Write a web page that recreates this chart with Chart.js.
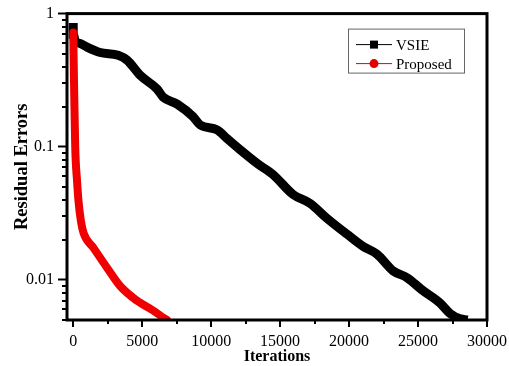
<!DOCTYPE html>
<html>
<head>
<meta charset="utf-8">
<script src="https://cdn.jsdelivr.net/npm/chart.js@4.4.0/dist/chart.umd.min.js"></script>
<style>
  html, body { margin: 0; padding: 0; background: #fff; }
  #wrap { width: 509px; height: 366px; }
</style>
</head>
<body>
<div id="wrap"><canvas id="c" width="509" height="366"></canvas></div>
<script>
// values
var xTicks = [0, 5000, 10000, 15000, 20000, 25000, 30000];
var yTicks = [0.01, 0.1, 1];

var vsieX = [0, 0, 150, 507, 1000, 1957, 3260, 3913, 4855, 6087, 6520, 7536, 8696, 9200, 10435, 11160, 12100, 13335, 14490, 15940, 17170, 18400, 19860, 21000, 22030, 23190, 24200, 25360, 26600, 27320, 28050, 28600];
var vsieY = [0.85, 0.7, 0.62, 0.597, 0.56, 0.51, 0.486, 0.446, 0.344, 0.271, 0.236, 0.209, 0.168, 0.146, 0.134, 0.115, 0.095, 0.075, 0.0618, 0.0438, 0.0376, 0.029, 0.022, 0.0179, 0.0156, 0.0117, 0.0104, 0.0083, 0.0067, 0.0056, 0.0051, 0.005];

var propX = [0, 60, 145, 280, 386, 560, 750, 1470, 2440, 3400, 4610, 5820, 6540, 6800];
var propY = [0.72, 0.3, 0.1, 0.055, 0.0389, 0.0276, 0.0225, 0.0174, 0.0124, 0.009, 0.007, 0.00587, 0.0052, 0.005];

function pts(xs, ys) {
  return xs.map(function (x, i) { return {x: x, y: ys[i]}; });
}

var serif = 'Liberation Serif';

// frame, tick marks and the legend box
var extras = {
  id: 'extras',
  afterDraw: function (chart) {
    var ctx = chart.ctx, a = chart.chartArea;
    var xs = chart.scales.x, ys = chart.scales.y;
    ctx.save();
    ctx.strokeStyle = '#000';
    ctx.lineWidth = 3;
    ctx.strokeRect(a.left, a.top, a.right - a.left, a.bottom - a.top);

    // minor y ticks
    ctx.lineWidth = 2;
    for (var e = -3; e <= 0; e++) {
      for (var m = 2; m <= 9; m++) {
        var v = m * Math.pow(10, e);
        if (v < ys.min || v > ys.max) continue;
        var py = Math.round(ys.getPixelForValue(v));
        ctx.beginPath();
        ctx.moveTo(a.left, py);
        ctx.lineTo(a.left - 5, py);
        ctx.stroke();
      }
    }
    // x ticks, major and minor
    for (var k = 0; k <= 30000; k += 2500) {
      var px = Math.round(xs.getPixelForValue(k));
      ctx.beginPath();
      ctx.moveTo(px, a.bottom);
      ctx.lineTo(px, a.bottom + (k % 5000 === 0 ? 7 : 4));
      ctx.stroke();
    }

    // legend
    var bx = a.right - 139, by = a.top + 15, bw = 116, bh = 44;
    ctx.lineWidth = 1;
    ctx.strokeStyle = '#666';
    ctx.strokeRect(bx + 0.5, by + 0.5, bw, bh);
    var rows = [
      {label: chart.data.datasets[0].label, color: '#000', y: by + 16, shape: 'rect'},
      {label: chart.data.datasets[1].label, color: '#e00000', y: by + 35, shape: 'circle'}
    ];
    rows.forEach(function (r) {
      ctx.strokeStyle = r.color;
      ctx.fillStyle = r.color;
      ctx.beginPath();
      ctx.moveTo(bx + 8, r.y);
      ctx.lineTo(bx + 44, r.y);
      ctx.stroke();
      if (r.shape === 'rect') {
        ctx.fillRect(bx + 22, r.y - 4, 8, 8);
      } else {
        ctx.beginPath();
        ctx.arc(bx + 26, r.y, 4.5, 0, Math.PI * 2);
        ctx.fill();
      }
      ctx.fillStyle = '#000';
      ctx.font = '15px "' + serif + '"';
      ctx.textBaseline = 'middle';
      ctx.textAlign = 'left';
      ctx.fillText(r.label, bx + 48, r.y + 1);
    });
    ctx.restore();
  }
};

var chart = new Chart(document.getElementById('c'), {
  type: 'scatter',
  data: {
    datasets: [
      {
        label: 'VSIE',
        data: pts(vsieX, vsieY),
        showLine: true,
        borderColor: '#000',
        backgroundColor: '#000',
        borderWidth: 9,
        pointRadius: 0,
        cubicInterpolationMode: 'monotone',
        order: 2
      },
      {
        label: 'Proposed',
        data: pts(propX, propY),
        showLine: true,
        borderColor: '#f00000',
        backgroundColor: '#f00000',
        borderWidth: 8,
        borderCapStyle: 'round',
        pointRadius: 0,
        cubicInterpolationMode: 'monotone',
        order: 1
      }
    ]
  },
  options: {
    responsive: false,
    animation: false,
    layout: { padding: { top: 10, right: 22, left: 0, bottom: 0 } },
    plugins: {
      legend: { display: false },
      tooltip: { enabled: false }
    },
    scales: {
      x: {
        type: 'linear',
        min: -450,
        max: 30000,
        afterBuildTicks: function (s) { s.ticks = xTicks.map(function (v) { return {value: v}; }); },
        afterFit: function (s) { s.height = 46; },
        grid: { display: true, drawOnChartArea: false, drawTicks: true, tickLength: 12, tickColor: 'rgba(0,0,0,0)' },
        border: { display: false },
        ticks: {
          color: '#000',
          font: { family: serif, size: 16 },
          padding: 0,
          maxRotation: 0,
          callback: function (v) { return String(v); }
        },
        title: {
          display: true,
          text: 'Iterations',
          color: '#000',
          font: { family: serif, size: 16, weight: 'bold' },
          padding: { top: 0, bottom: 0 }
        }
      },
      y: {
        type: 'logarithmic',
        min: 0.005,
        max: 1,
        afterBuildTicks: function (s) { s.ticks = yTicks.map(function (v) { return {value: v}; }); },
        afterFit: function (s) { s.width = 67; },
        grid: { display: true, drawOnChartArea: false, drawTicks: true, tickLength: 9, tickWidth: 2, tickColor: '#000' },
        border: { display: false },
        ticks: {
          color: '#000',
          font: { family: serif, size: 16 },
          padding: 4,
          callback: function (v) { return String(v); }
        },
        title: {
          display: true,
          text: 'Residual Errors',
          color: '#000',
          font: { family: serif, size: 18.5, weight: 'bold' },
          padding: { top: 11, bottom: 0 }
        }
      }
    }
  },
  plugins: [extras]
});
</script>
</body>
</html>
